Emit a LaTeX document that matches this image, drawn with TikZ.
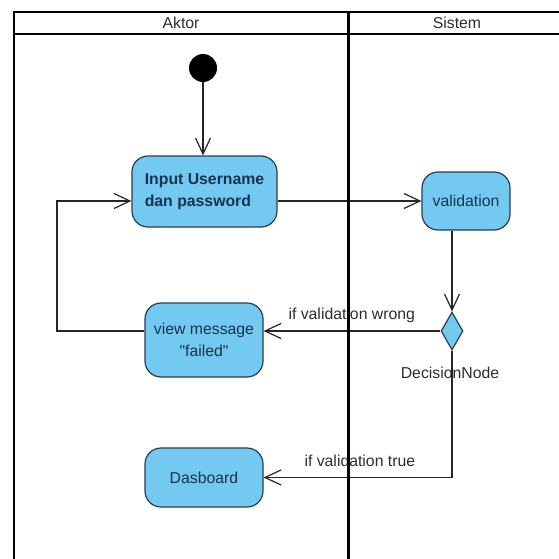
\documentclass[tikz,border=0pt]{standalone}
\usepackage{fontspec}
\setmainfont{Liberation Sans}[Ligatures=TeXOff]
\usetikzlibrary{arrows.meta,shapes.geometric}
\definecolor{actfill}{RGB}{115,201,240}
\definecolor{actline}{RGB}{40,62,82}
\definecolor{acttext}{RGB}{25,50,80}
\definecolor{captext}{RGB}{45,45,45}

\begin{document}
\begin{tikzpicture}[x=1pt,y=-1pt,
  txt/.style={font=\fontsize{15.8}{21.5}\selectfont},
  action/.style={draw=actline, fill=actfill, line width=1.2pt, rounded corners=16pt,
    text=acttext, txt, inner sep=0pt},
  flow/.style={draw=black!85, line width=1.2pt,
    -{Straight Barb[length=16pt,width=15pt,line width=1.2pt]}},
  lane/.style={line width=2.6pt},
  caption/.style={txt, text=captext}
]
\useasboundingbox (0,0) rectangle (559,559);

% activity nodes
\node[circle, fill=black, minimum size=28pt, inner sep=0pt] (start) at (203,68) {};
\node[action, minimum width=145pt, minimum height=71pt, align=left,
  font={\fontsize{15.8}{21.5}\selectfont\bfseries}] (inp) at (204.5,191.5)
  {Input Username\\dan password};
\node[action, minimum width=88pt, minimum height=58pt] (val) at (466,201) {validation};
\node[diamond, draw=actline, fill=actfill, line width=1.2pt, minimum width=22pt,
  minimum height=38pt, inner sep=0pt] (dec) at (452,331) {};
\node[caption] (declabel) at (450,373) {DecisionNode};
\node[action, minimum width=118pt, minimum height=74pt, align=center] (msg) at (204,340)
  {view message\\"failed"};
\node[action, minimum width=118pt, minimum height=59pt] (dash) at (204,477.5) {Dasboard};

% control flows
\coordinate (loop) at (57,0);
\draw[flow] (start.south) -- (start.south |- inp.north);
\draw[flow] (inp.east |- val.west) -- (val.west);
\draw[flow] (val.south -| dec.north) -- (dec.north);
\draw[flow] (dec.west) -- (dec.west -| msg.east);
\draw[flow] (dec.south) |- (dash.east);
\draw[flow] (msg.west |- dec.west) -- (loop |- dec.west) -- (loop |- val.west)
  -- (inp.west |- val.west);

% guard labels
\node[caption, anchor=west] (lblwrong) at (285,315) {if validation wrong};
\node[caption, anchor=west] (lbltrue) at (301,461) {if validation true};

% swimlane frame
\draw[lane] (14,570) -- (14,12) -- (570,12);
\draw[lane] (14,34) -- (570,34);
\draw[line width=3pt] (348,12) -- (348,570);
\node[caption] (aktor) at (181,23) {Aktor};
\node[caption] (sistem) at (457,23) {Sistem};
\end{tikzpicture}
\end{document}
